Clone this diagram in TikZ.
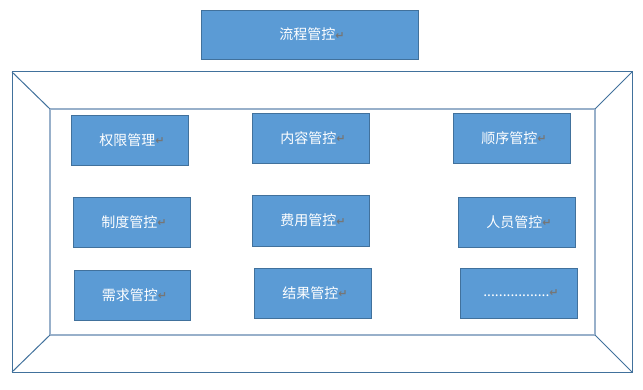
\documentclass[tikz,border=0pt]{standalone}
\usepackage{fontspec}
\newfontfamily\cjk{Noto Sans CJK SC}
\newfontfamily\symf{DejaVu Sans Bold}
\definecolor{boxfill}{HTML}{5B9BD5}
\definecolor{boxline}{HTML}{41719C}
\definecolor{innerline}{HTML}{98B0CA}
\definecolor{markgray}{HTML}{767676}
\newcommand{\pmark}{\raisebox{0.5pt}{\symf\fontsize{11}{11}\selectfont\color{markgray}↵}}
\tikzset{
  cbox/.style={draw=boxline, fill=boxfill, line width=0.9pt, inner sep=0pt,
    minimum width=117pt, minimum height=50pt, text=white,
    font=\cjk\fontsize{14}{14}\selectfont},
  outerframe/.style={draw=boxline, line width=1pt},
  innerframe/.style={draw=innerline, line width=1.8pt}
}
\begin{document}
\begin{tikzpicture}[x=1pt,y=-1pt]
\useasboundingbox (0,0) rectangle (643,390);
% frame
\coordinate (o1) at (12,72);
\coordinate (o2) at (632,72);
\coordinate (o3) at (632,372);
\coordinate (o4) at (12,372);
\coordinate (i1) at (50,109);
\coordinate (i2) at (595,109);
\coordinate (i3) at (595,335);
\coordinate (i4) at (50,335);
\draw[innerframe] (i1) -- (i2) -- (i3) -- (i4) -- cycle;
\draw[outerframe] (o1) -- (o2) -- (o3) -- (o4) -- cycle;
\draw[outerframe] (o1) -- (i1);
\draw[outerframe] (o2) -- (i2);
\draw[outerframe] (o3) -- (i3);
\draw[outerframe] (o4) -- (i4);
% boxes
\node[cbox, minimum width=217pt, minimum height=49pt] (top) at (309.5,34.5) {\hspace{5pt}流程管控\pmark};
\node[cbox] (qx) at (129.5,140) {\hspace{5pt}权限管理\pmark};
\node[cbox] (nr) at (310.5,138) {\hspace{5pt}内容管控\pmark};
\node[cbox] (sx) at (511.5,138) {\hspace{5pt}顺序管控\pmark};
\node[cbox] (zd) at (131.5,222) {\hspace{5pt}制度管控\pmark};
\node[cbox, minimum height=51pt] (fy) at (310.5,220.5) {\hspace{5pt}费用管控\pmark};
\node[cbox] (ry) at (516.5,222) {\hspace{5pt}人员管控\pmark};
\node[cbox, minimum width=116pt] (xq) at (132,295) {\hspace{5pt}需求管控\pmark};
\node[cbox] (jg) at (312.5,293) {\hspace{5pt}结果管控\pmark};
\node[cbox] (dd) at (518.5,293) {\hspace{5pt}.................\pmark};
\end{tikzpicture}
\end{document}
